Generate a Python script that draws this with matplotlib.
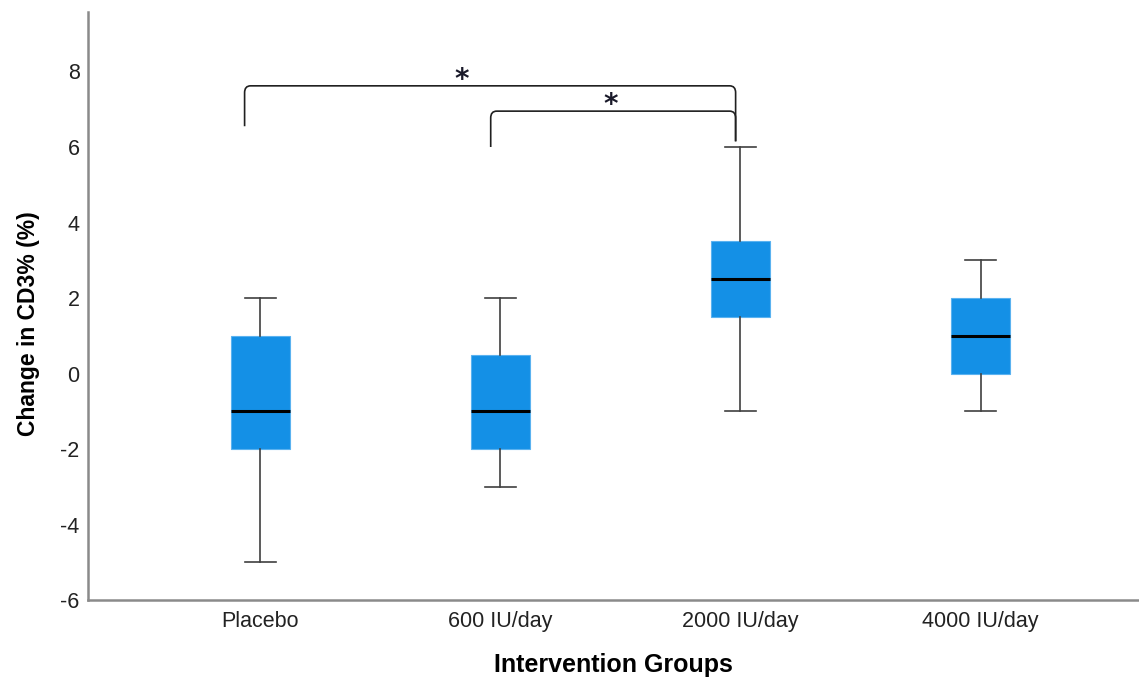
import matplotlib.pyplot as plt
from matplotlib.path import Path
from matplotlib.patches import PathPatch

plt.rcParams['font.family'] = ['Liberation Sans', 'DejaVu Sans']
plt.rcParams['axes.unicode_minus'] = False

groups = ['Placebo', '600 IU/day', '2000 IU/day', '4000 IU/day']
whisker_low = [-5, -3, -1, -1]
q1 = [-2, -2, 1.5, 0]
medians = [-1, -1, 2.5, 1]
q3 = [1, 0.5, 3.5, 2]
whisker_high = [2, 2, 6, 3]

# significance brackets: (left x, right x, left foot, right foot, top, star x, label)
brackets = [
    (0.935, 2.98, 6.55, 6.15, 7.62, 1.84, '*'),
    (1.96, 2.98, 6.0, 6.15, 6.95, 2.46, '*'),
]

stats = []
for i in range(len(groups)):
    stats.append({'whislo': whisker_low[i], 'q1': q1[i], 'med': medians[i],
                  'q3': q3[i], 'whishi': whisker_high[i], 'fliers': []})

fig = plt.figure(figsize=(11.39, 6.79), dpi=100)
ax = fig.add_axes([0.0773, 0.1163, 0.9227, 0.8657])

ax.bxp(stats, positions=range(1, len(groups) + 1), widths=0.245,
       patch_artist=True, showfliers=False,
       boxprops=dict(facecolor='#1490e6', edgecolor='#5ab2f0', linewidth=0.8),
       medianprops=dict(color='black', linewidth=2.2),
       whiskerprops=dict(color='#404040', linewidth=1.2),
       capprops=dict(color='#404040', linewidth=1.2),
       capwidths=0.13)

# brackets with rounded corners
rx, ry = 0.025, 0.18
for x0, x1, f0, f1, top, sx, lab in brackets:
    verts = [(x0, f0), (x0, top - ry), (x0, top), (x0 + rx, top),
             (x1 - rx, top), (x1, top), (x1, top - ry), (x1, f1)]
    codes = [Path.MOVETO, Path.LINETO, Path.CURVE3, Path.CURVE3,
             Path.LINETO, Path.CURVE3, Path.CURVE3, Path.LINETO]
    ax.add_patch(PathPatch(Path(verts, codes), facecolor='none',
                           edgecolor='#202020', linewidth=1.2))
    ax.text(sx, top - 0.05, lab, ha='center', va='baseline', family='DejaVu Sans',
            fontsize=20, fontweight='bold', color='#1a1a2a')

ax.set_xlim(0.283, 4.66)
ax.set_ylim(-6, 9.57)
ax.set_yticks(range(-6, 9, 2))
ax.set_xticks(range(1, len(groups) + 1))
ax.set_xticklabels(groups)
ax.tick_params(axis='both', length=0, labelsize=15.5, colors='#222222')
ax.tick_params(axis='x', pad=8)
ax.tick_params(axis='y', pad=6)

for s in ['top', 'right']:
    ax.spines[s].set_visible(False)
for s in ['left', 'bottom']:
    ax.spines[s].set_color('#8a8a8a')
    ax.spines[s].set_linewidth(1.8)

ax.set_xlabel('Intervention Groups', fontsize=18, fontweight='bold')
ax.xaxis.set_label_coords(0.5, -0.111)
ax.xaxis.label.set_va('center')
ax.set_ylabel('Change in CD3% (%)', fontsize=16.5, fontweight='bold')
ax.yaxis.set_label_coords(-0.057, 0.471)
ax.yaxis.label.set_va('center')

fig.savefig('out.png', dpi=100)
